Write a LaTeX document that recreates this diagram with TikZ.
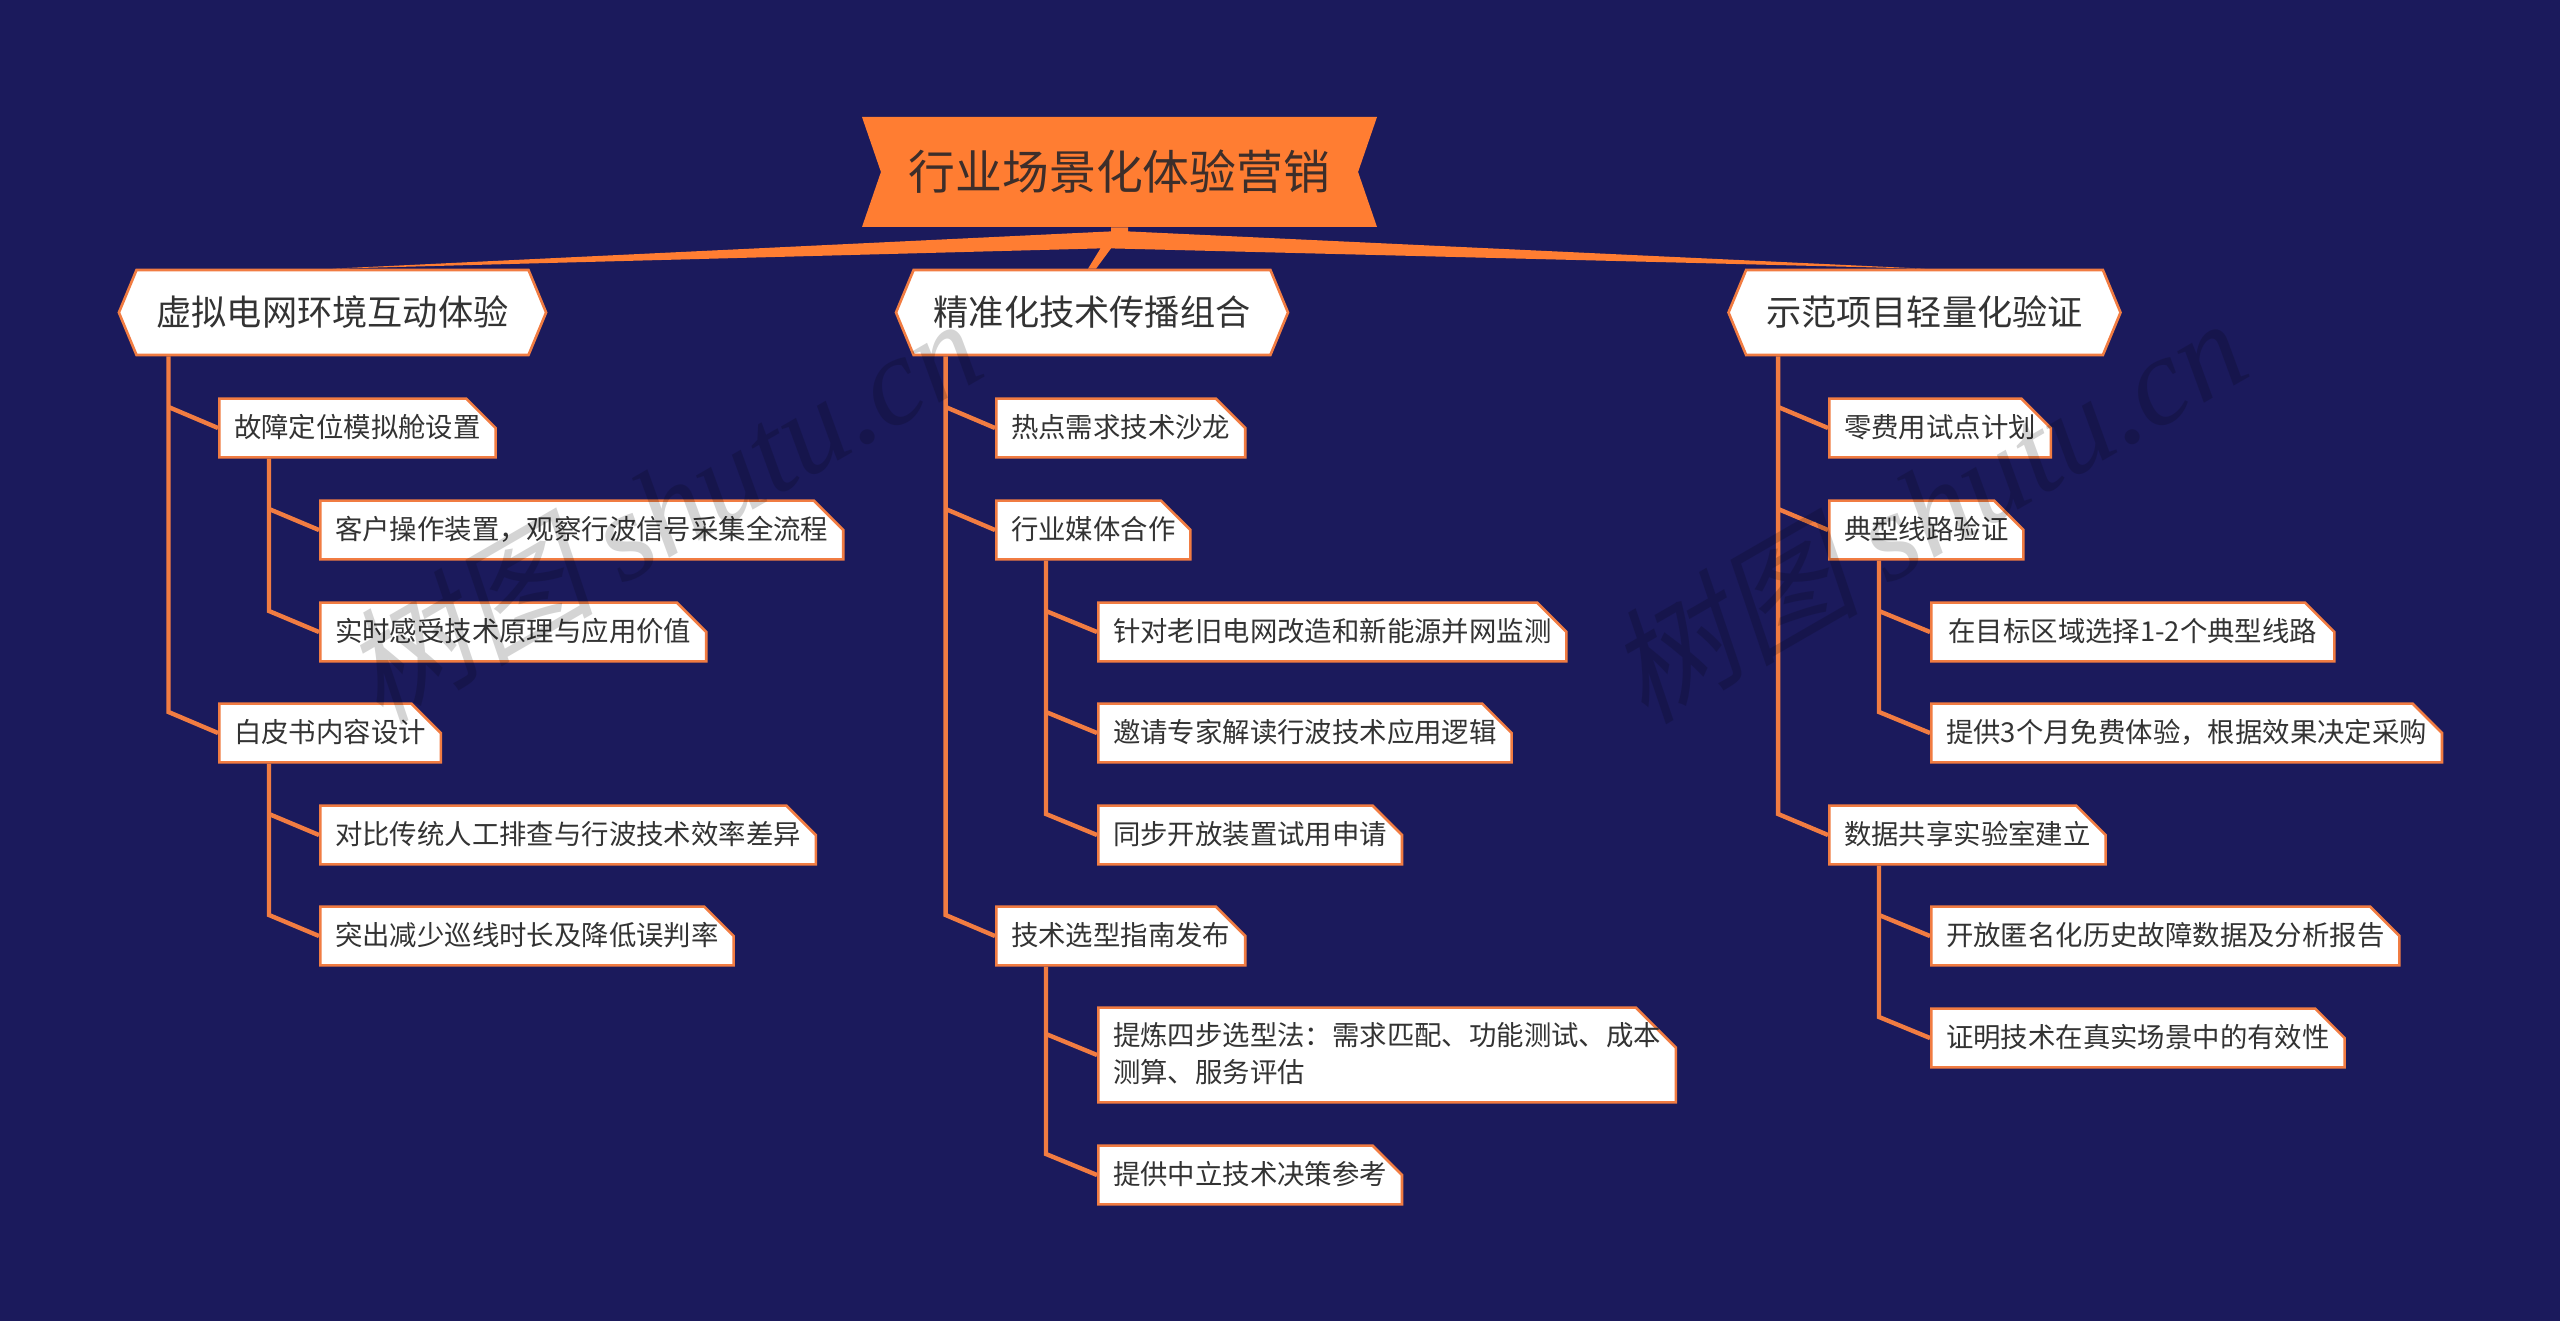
\documentclass[tikz,border=0pt]{standalone}
\usepackage{fontspec}
\setmainfont{Noto Sans CJK SC}
\newfontfamily\markcjk[FakeSlant=0.2]{Noto Sans CJK SC}
\newfontfamily\marklatin{Liberation Serif}
\usetikzlibrary{calc}
\usetikzlibrary{shapes.misc}
\usetikzlibrary{shapes.symbols}
\definecolor{MyNight}{HTML}{1B1A5C}
\definecolor{MyOrange}{HTML}{FF7D32}
\definecolor{MyEdge}{HTML}{F17C42}
\definecolor{MyInk}{HTML}{333333}
\definecolor{MyRootInk}{HTML}{3D2E2A}

\begin{document}
\begin{tikzpicture}[x=0.5pt, y=-0.5pt]
       \tikzstyle{every node}=[text=MyInk]
       \tikzstyle{rootbox}=[shape=signal, signal from=west and east, signal to=nowhere,
         signal pointer angle=142, fill=MyOrange, text=MyRootInk, minimum width=257.5pt, minimum height=55pt,
         inner sep=0pt, font=\fontsize{23.4}{28}\selectfont]
       \tikzstyle{hexbox}=[shape=signal, signal to=west and east, signal pointer angle=135,
         draw=MyEdge, fill=white, line width=1.3pt, minimum height=42.5pt, inner xsep=10pt, inner ysep=0pt,
         font=\fontsize{17.6}{22}\selectfont]
       \tikzstyle{leafbox}=[shape=chamfered rectangle, chamfered rectangle corners=north east,
         chamfered rectangle xsep=10pt, chamfered rectangle ysep=10pt,
         draw=MyEdge, fill=white, line width=1.3pt, anchor=west, text height=9.35pt, text depth=-0.65pt, inner xsep=2.75pt, inner ysep=0pt,
         align=left, font=\fontsize{13.7}{18.5}\selectfont]
       \tikzstyle{branch}=[draw=MyEdge, line width=2.2pt, line join=miter]
       \tikzstyle{markstyle}=[text=black, opacity=0.17, rotate=30, font=\fontsize{63}{63}\selectfont]

       \useasboundingbox (0, 0) rectangle (2560, 1321);
       \fill[MyNight] (0, 0) rectangle (2560, 1321);

       \node[rootbox] (root) at (1119.5, 172) {行业场景化体验营销};
       \node[hexbox] (hexA) at (332.5, 312.5) {虚拟电网环境互动体验};
       \node[hexbox] (hexB) at (1092, 312.5) {精准化技术传播组合};
       \node[hexbox] (hexC) at (1924.5, 312.5) {示范项目轻量化验证};

       \node[leafbox] (a1) at (218, 428) {故障定位模拟舱设置};
       \node[leafbox] (a11) at (319, 530) {客户操作装置，观察行波信号采集全流程};
       \node[leafbox] (a12) at (319, 632) {实时感受技术原理与应用价值};
       \node[leafbox] (a2) at (218, 733) {白皮书内容设计};
       \node[leafbox] (a21) at (319, 835) {对比传统人工排查与行波技术效率差异};
       \node[leafbox] (a22) at (319, 936) {突出减少巡线时长及降低误判率};

       \node[leafbox] (b1) at (995, 428) {热点需求技术沙龙};
       \node[leafbox] (b2) at (995, 530) {行业媒体合作};
       \node[leafbox] (b21) at (1097, 632) {针对老旧电网改造和新能源并网监测};
       \node[leafbox] (b22) at (1097, 733) {邀请专家解读行波技术应用逻辑};
       \node[leafbox] (b23) at (1097, 835) {同步开放装置试用申请};
       \node[leafbox] (b3) at (995, 936) {技术选型指南发布};
       \node[leafbox, text height=27.35pt, text depth=-1.15pt, inner xsep=-2.6pt] (b31) at (1097, 1055) {提炼四步选型法：需求匹配、功能测试、成本\\测算、服务评估};
       \node[leafbox] (b32) at (1097, 1175) {提供中立技术决策参考};

       \node[leafbox] (c1) at (1828, 428) {零费用试点计划};
       \node[leafbox] (c2) at (1828, 530) {典型线路验证};
       \node[leafbox, inner xsep=3.9pt] (c21) at (1930, 632) {在目标区域选择1-2个典型线路};
       \node[leafbox] (c22) at (1930, 733) {提供3个月免费体验，根据效果决定采购};
       \node[leafbox] (c3) at (1828, 835) {数据共享实验室建立};
       \node[leafbox] (c31) at (1930, 936) {开放匿名化历史故障数据及分析报告};
       \node[leafbox] (c32) at (1930, 1038) {证明技术在真实场景中的有效性};

       \fill[MyOrange] ($(root.south)+(-8.5, 0)$) -- ($(root.south)+(8.5, 0)$) -- ($(root.south)+(8.5, 4)$)
         -- (hexC.north) -- ($(root.south)+(-8.5, 21)$) -- ($(hexB.north)+(4, 0)$) -- ($(hexB.north)+(-4, 0)$)
         -- ($(root.south)+(-19, 21)$) -- (hexA.north) -- ($(root.south)+(-8.5, 4)$) -- cycle;

       \foreach \hub/\first/\last in {hexA/a1/a2, hexB/b1/b3, hexC/c1/c3, a1/a11/a12, a2/a21/a22, b2/b21/b23, b3/b31/b32, c2/c21/c22, c3/c31/c32} {
         \coordinate (trunk) at ($(\hub.west)+(51, 0)$);
         \draw[branch] (trunk |- \hub.south) -- ($(trunk |- \last.west)+(0, -21)$) -- (\last.west);
       }
       \foreach \hub/\kid in {hexA/a1, hexB/b1, hexB/b2, hexC/c1, hexC/c2, a1/a11, a2/a21, b2/b21, b2/b22, b3/b31, c2/c21, c3/c31} {
         \coordinate (trunk) at ($(\hub.west)+(51, 0)$);
         \draw[branch] ($(trunk |- \kid.west)+(0, -21)$) -- (\kid.west);
       }

       \node[markstyle] (markA) at (661, 508) {\markcjk 树图 \marklatin\itshape shutu.cn};
       \node[markstyle] (markB) at (1926, 508) {\markcjk 树图 \marklatin\itshape shutu.cn};
      \end{tikzpicture}
\end{document}
